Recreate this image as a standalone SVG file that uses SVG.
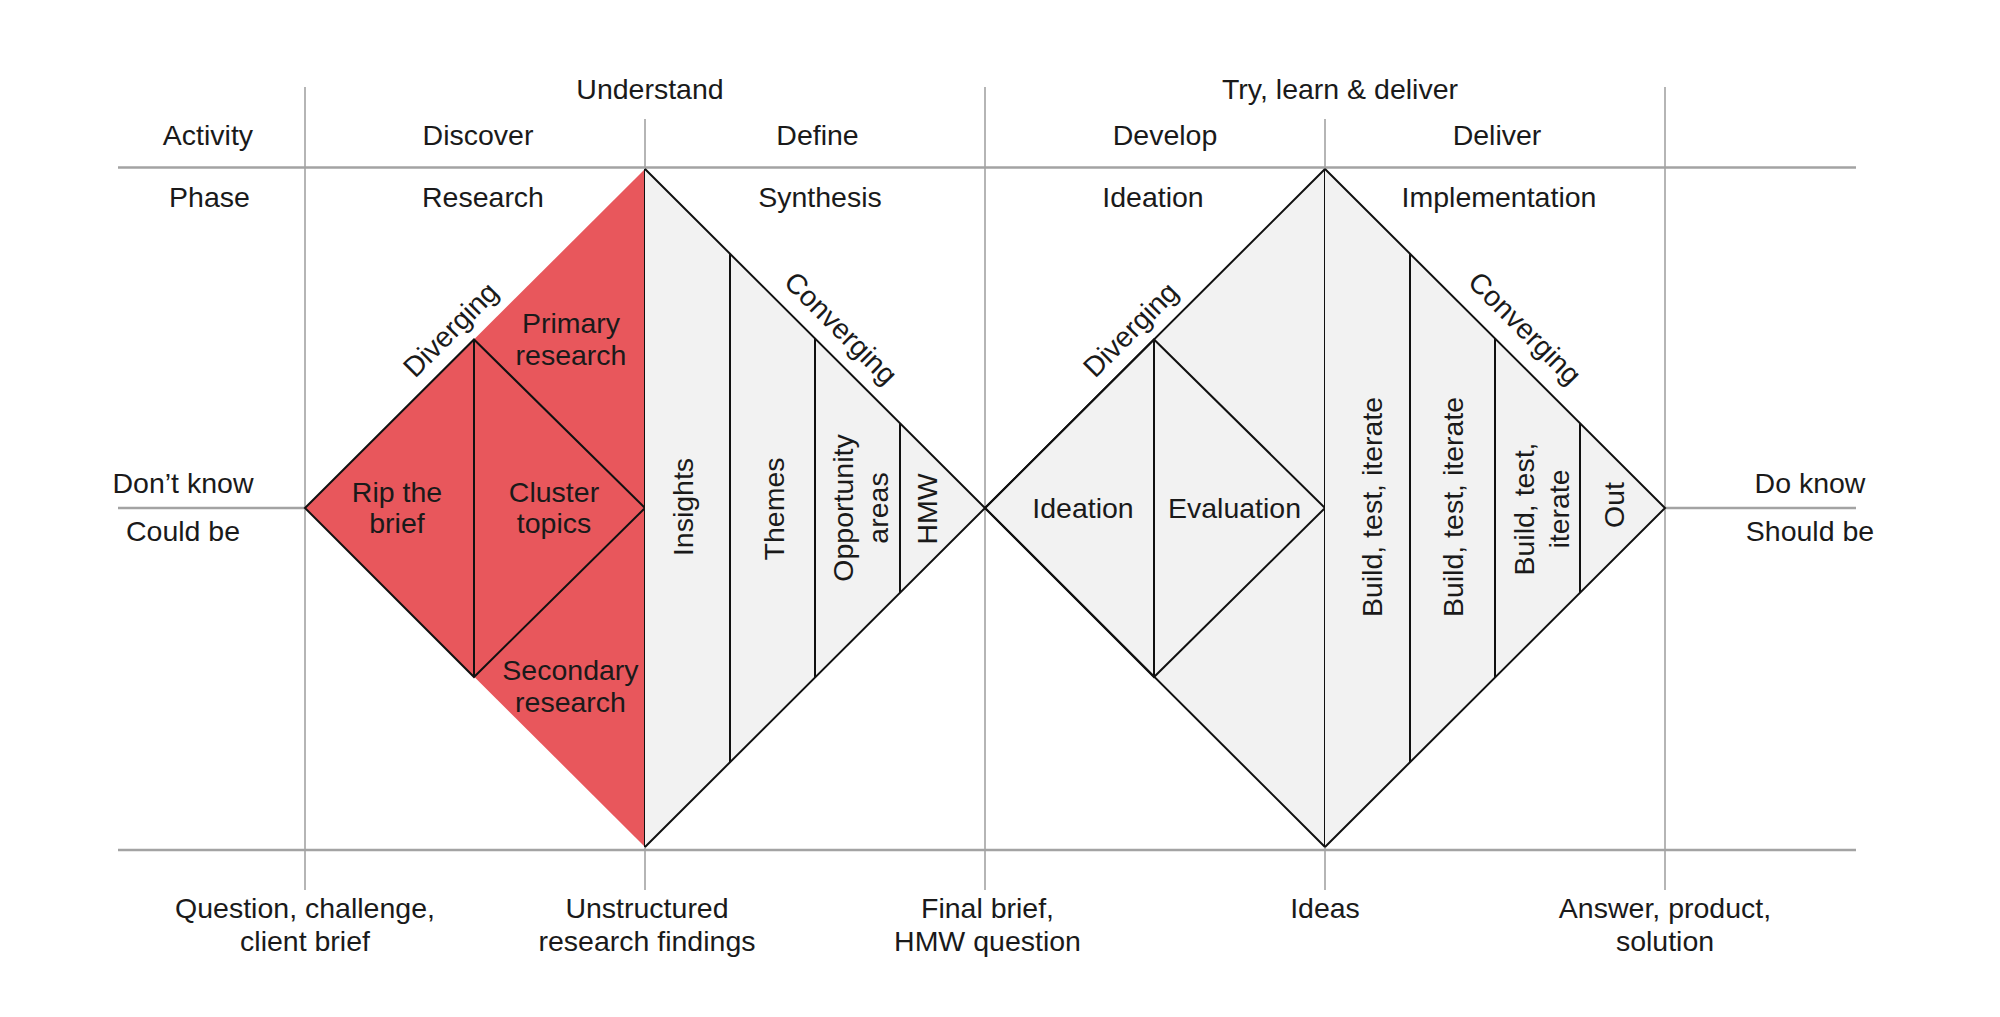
<svg xmlns="http://www.w3.org/2000/svg" width="2000" height="1017" viewBox="0 0 2000 1017">
<style>
.t{font-family:"Liberation Sans",Arial,sans-serif;font-size:28.5px;fill:#1a1a1a;text-anchor:middle}
.hl{stroke:#a3a3a3;stroke-width:2.6;fill:none}
.vl{stroke:#a3a3a3;stroke-width:1.6;fill:none}
.bk{stroke:#111;stroke-width:2;fill:none;stroke-linejoin:miter}
.red{fill:#E8575C}
.gry{fill:#F2F2F2}
</style>
<rect width="2000" height="1017" fill="#ffffff"/>
<g id="grid">
<line class="hl" x1="118" y1="167.5" x2="1856" y2="167.5"/>
<line class="hl" x1="118" y1="850" x2="1856" y2="850"/>
<line class="hl" x1="118" y1="508" x2="305" y2="508"/>
<line class="hl" x1="1665" y1="508" x2="1856" y2="508"/>
<line class="vl" x1="305" y1="87" x2="305" y2="890"/>
<line class="vl" x1="645" y1="119" x2="645" y2="890"/>
<line class="vl" x1="985" y1="87" x2="985" y2="890"/>
<line class="vl" x1="1325" y1="119" x2="1325" y2="890"/>
<line class="vl" x1="1665" y1="87" x2="1665" y2="890"/>
</g>
<g id="discover-diamond">
<polygon class="red" points="305,508 645,169 645,847"/>
<polygon class="bk" points="305,508 474,339.5 645,508 474,677"/>
<line class="bk" x1="474" y1="339.5" x2="474" y2="677"/>
<line class="bk" x1="645" y1="169" x2="645" y2="847"/>
</g>
<g id="define-diamond">
<polygon class="gry" points="645,169 985,508 645,847"/>
<polyline class="bk" points="645,169 985,508 645,847"/>
<line class="bk" x1="730" y1="253.7" x2="730" y2="762.3"/>
<line class="bk" x1="815" y1="338.5" x2="815" y2="677.5"/>
<line class="bk" x1="900" y1="423.2" x2="900" y2="592.8"/>
</g>
<g id="develop-diamond">
<polygon class="gry" points="985,508 1325,169 1325,847"/>
<polyline class="bk" points="1325,169 985,508 1325,847"/>
<polygon class="bk" points="985,508 1154,339.5 1325,508 1154,677"/>
<line class="bk" x1="1154" y1="339.5" x2="1154" y2="677"/>
<line class="bk" x1="1325" y1="169" x2="1325" y2="847"/>
</g>
<g id="deliver-diamond">
<polygon class="gry" points="1325,169 1665,508 1325,847"/>
<polyline class="bk" points="1325,169 1665,508 1325,847"/>
<line class="bk" x1="1410" y1="253.7" x2="1410" y2="762.3"/>
<line class="bk" x1="1495" y1="338.5" x2="1495" y2="677.5"/>
<line class="bk" x1="1580" y1="423.2" x2="1580" y2="592.8"/>
</g>
<g id="connectors"></g>
<g id="header-labels">
<text class="t" x="650" y="99">Understand</text>
<text class="t" x="1340" y="99">Try, learn &amp; deliver</text>
<text class="t" x="208" y="145">Activity</text>
<text class="t" x="478" y="145">Discover</text>
<text class="t" x="817.5" y="145">Define</text>
<text class="t" x="1165" y="145">Develop</text>
<text class="t" x="1497" y="145">Deliver</text>
<text class="t" x="209.5" y="207">Phase</text>
<text class="t" x="483" y="207">Research</text>
<text class="t" x="820" y="207">Synthesis</text>
<text class="t" x="1153" y="207">Ideation</text>
<text class="t" x="1499" y="207">Implementation</text>
</g>
<g id="side-labels">
<text class="t" x="183" y="493">Don’t know</text>
<text class="t" x="183" y="540.5">Could be</text>
<text class="t" x="1810" y="493">Do know</text>
<text class="t" x="1810" y="540.5">Should be</text>
</g>
<g id="discover-labels">
<text class="t" transform="translate(457.5,336.5) rotate(-45)" x="0" y="0">Diverging</text>
<text class="t" x="571" y="333">Primary</text>
<text class="t" x="571" y="365">research</text>
<text class="t" x="397" y="501.5">Rip the</text>
<text class="t" x="397" y="533">brief</text>
<text class="t" x="554" y="501.5">Cluster</text>
<text class="t" x="554" y="533">topics</text>
<text class="t" x="570.5" y="680">Secondary</text>
<text class="t" x="570.5" y="712">research</text>
</g>
<g id="define-labels">
<text class="t" transform="translate(834,335) rotate(45)" x="0" y="0">Converging</text>
<text class="t" transform="translate(692.5,507) rotate(-90)" x="0" y="0">Insights</text>
<text class="t" transform="translate(784,509) rotate(-90)" x="0" y="0">Themes</text>
<text class="t" transform="translate(853,508) rotate(-90)" x="0" y="0">Opportunity<tspan x="0" dy="35">areas</tspan></text>
<text class="t" transform="translate(936.5,509) rotate(-90)" x="0" y="0">HMW</text>
</g>
<g id="develop-labels">
<text class="t" transform="translate(1137.5,336.5) rotate(-45)" x="0" y="0">Diverging</text>
<text class="t" x="1083" y="518">Ideation</text>
<text class="t" x="1234.5" y="518">Evaluation</text>
</g>
<g id="deliver-labels">
<text class="t" transform="translate(1518,335) rotate(45)" x="0" y="0">Converging</text>
<text class="t" transform="translate(1381.5,507) rotate(-90)" x="0" y="0">Build, test, iterate</text>
<text class="t" transform="translate(1462.5,507) rotate(-90)" x="0" y="0">Build, test, iterate</text>
<text class="t" transform="translate(1533.5,509) rotate(-90)" x="0" y="0">Build, test,<tspan x="0" dy="35">iterate</tspan></text>
<text class="t" transform="translate(1624,505) rotate(-90)" x="0" y="0">Out</text>
</g>
<g id="bottom-labels">
<text class="t" x="305" y="918">Question, challenge,</text>
<text class="t" x="305" y="951">client brief</text>
<text class="t" x="647" y="918">Unstructured</text>
<text class="t" x="647" y="951">research findings</text>
<text class="t" x="987.5" y="918">Final brief,</text>
<text class="t" x="987.5" y="951">HMW question</text>
<text class="t" x="1325" y="918">Ideas</text>
<text class="t" x="1665" y="918">Answer, product,</text>
<text class="t" x="1665" y="951">solution</text>
</g>
</svg>
